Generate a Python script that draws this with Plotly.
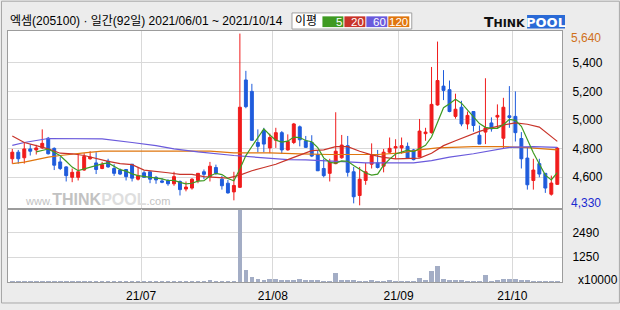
import plotly.graph_objects as go
import pandas as pd

# ---------------- data ----------------
opens = [4728, 4774, 4735, 4797, 4790, 4804, 4872, 4801, 4706, 4671,
         4598, 4598, 4649, 4728, 4699, 4660, 4712, 4660, 4649, 4653,
         4690, 4585, 4630, 4637, 4598, 4573, 4576, 4553, 4569, 4516,
         4523, 4576, 4637, 4603, 4667, 4585, 4557, 4496, 4528, 5280,
         5200, 4842, 4927, 4804, 4858, 4911, 4790, 4842, 4952, 4854,
         4842, 4756, 4660, 4626, 4694, 4735, 4820, 4637, 4471, 4576,
         4690, 4699, 4676, 4774, 4804, 4804, 4815, 4790, 4740, 4904,
         4911, 5105, 5237, 5212, 5025, 5089, 4972, 5059, 4893, 4915,
         4979, 5020, 4872, 5029, 5025, 4870, 4733, 4576, 4694, 4626,
         4480, 4549]
highs = [4797, 4790, 4842, 4831, 4826, 4934, 4881, 4808, 4740, 4676,
         4660, 4763, 4767, 4781, 4774, 4706, 4728, 4690, 4660, 4655,
         4690, 4671, 4642, 4637, 4608, 4592, 4585, 4637, 4576, 4569,
         4592, 4626, 4653, 4706, 4687, 4608, 4580, 4637, 5605, 5344,
         5253, 4934, 4945, 4904, 4945, 4922, 4899, 4979, 4961, 4888,
         4893, 4785, 4728, 4728, 5054, 4895, 4888, 4671, 4671, 4699,
         4836, 4790, 4797, 4877, 4865, 4877, 4842, 4797, 5007, 4945,
         5371, 5549, 5349, 5276, 5184, 5134, 5059, 5059, 4961, 5292,
         5018, 5109, 5155, 5237, 5200, 4915, 4808, 4728, 4728, 4626,
         4610, 4810]
lows = [4694, 4694, 4694, 4751, 4758, 4797, 4758, 4649, 4649, 4569,
        4564, 4576, 4644, 4722, 4621, 4655, 4665, 4608, 4614, 4576,
        4569, 4576, 4596, 4557, 4553, 4557, 4539, 4539, 4471, 4500,
        4512, 4557, 4585, 4569, 4614, 4512, 4484, 4437, 4523, 5082,
        4854, 4774, 4774, 4767, 4804, 4763, 4785, 4831, 4815, 4804,
        4740, 4642, 4598, 4569, 4690, 4728, 4603, 4416, 4402, 4546,
        4660, 4660, 4633, 4767, 4728, 4763, 4728, 4717, 4740, 4854,
        4904, 5100, 5139, 5054, 5009, 4956, 4934, 4918, 4831, 4831,
        4918, 4940, 4797, 4945, 4849, 4660, 4512, 4512, 4598, 4489,
        4470, 4545]
closes = [4774, 4728, 4797, 4781, 4804, 4836, 4763, 4683, 4660, 4610,
          4633, 4637, 4744, 4740, 4653, 4687, 4671, 4626, 4621, 4603,
          4592, 4610, 4598, 4585, 4580, 4564, 4553, 4603, 4512, 4530,
          4585, 4626, 4619, 4676, 4626, 4539, 4489, 4541, 5089, 5093,
          4858, 4815, 4831, 4877, 4911, 4790, 4849, 4972, 4861, 4808,
          4747, 4644, 4610, 4706, 4781, 4824, 4633, 4462, 4585, 4637,
          4751, 4667, 4774, 4801, 4813, 4820, 4733, 4722, 4922, 4915,
          5109, 5276, 5207, 5059, 5075, 4972, 5032, 4961, 4831, 4945,
          4938, 5032, 5089, 5018, 4911, 4728, 4546, 4649, 4621, 4523,
          4558, 4802]
volumes = [70] * 33 + [120, 70, 70, 70, 70,
           3620, 620, 270, 150, 110, 160, 160, 110, 110, 110,
           160, 100, 100, 100, 70, 70, 460, 100, 100, 100,
           70, 70, 100, 70, 70, 100, 70, 70, 70, 70,
           215, 100, 545, 843, 150, 100, 100, 100, 70, 70,
           70, 347, 70, 100, 150, 150, 150, 100, 100,
           70, 70, 70, 70, 70]

ma20_days = [0, 2, 4, 6, 8, 10, 12, 14, 16, 18, 20, 22, 24, 26, 28, 30, 32, 34, 36, 38,
             40, 42, 44, 46, 48, 50, 52, 54, 56, 58, 60, 62, 64, 66, 68, 70, 72, 74, 76,
             78, 80, 82, 84, 86, 88, 90, 91]
ma20 = [4888, 4842, 4820, 4797, 4767, 4763, 4751, 4728, 4710, 4694, 4687, 4649, 4637,
        4630, 4619, 4619, 4603, 4598, 4592, 4614, 4644, 4667, 4690, 4722, 4751, 4785,
        4790, 4813, 4813, 4781, 4755, 4738, 4728, 4728, 4733, 4767, 4820, 4854, 4888,
        4920, 4945, 4965, 4979, 4970, 4950, 4880, 4850]
ma60_days = [0, 2, 6, 10, 15, 20, 24, 27, 29, 31, 37, 40, 43, 46, 49, 54, 56, 59, 62,
             67, 70, 73, 77, 80, 83, 87, 91]
ma60 = [4822, 4842, 4870, 4870, 4868, 4842, 4820, 4797, 4785, 4776, 4751, 4740, 4728,
        4722, 4720, 4713, 4706, 4699, 4699, 4699, 4715, 4740, 4763, 4785, 4808, 4813, 4808]
ma120_days = [0, 2, 4, 6, 8, 10, 12, 15, 20, 26, 31, 33, 37, 43, 48, 53, 61, 65, 68,
              71, 77, 82, 86, 89, 91]
ma120 = [4694, 4704, 4722, 4740, 4751, 4762, 4770, 4781, 4781, 4785, 4781, 4781, 4770,
         4770, 4763, 4758, 4758, 4770, 4790, 4804, 4813, 4813, 4806, 4795, 4790]

month_start_idx = [22, 44, 65, 84]
month_labels = ["21/07", "21/08", "21/09", "21/10"]
price_ticks = [4600, 4800, 5000, 5200, 5400]
vol_ticks = [1250, 2490]
period_high = 5640
period_low = 4330
title_text = "엑셈(205100) · 일간(92일) 2021/06/01 ~ 2021/10/14"
ma_names = ["5", "20", "60", "120"]

# ---------------- styling ----------------
W, H = 620, 310
L, R, T, B = 7, 562, 31, 288
SPLIT = 213
FONT = "Liberation Sans, Noto Sans CJK KR, sans-serif"
RED = "#f01c1c"
BLUE = "#1f5cdc"
C5, C20, C60, C120 = "#3f9a22", "#c8342a", "#6a5adc", "#e0760e"
GRID = "#d9d9d9"
FRAME = "#9c9c9c"
BG = "#ececec"


def fx(x):
    return (x - L) / (R - L)


def fy(y):
    return (B - y) / (B - T)


days = list(range(len(closes)))
ma5 = pd.Series(closes, dtype=float).rolling(5).mean().tolist()
ma5 = [None if pd.isna(v) else v for v in ma5]

fig = go.Figure()
for d, v, c in [(ma120_days, ma120, C120), (ma60_days, ma60, C60), (ma20_days, ma20, C20)]:
    fig.add_trace(go.Scatter(x=d, y=v, mode="lines", line=dict(color=c, width=1.2),
                             hoverinfo="skip", showlegend=False, xaxis="x", yaxis="y"))
fig.add_trace(go.Scatter(x=days, y=ma5, mode="lines", line=dict(color=C5, width=1.2),
                         hoverinfo="skip", showlegend=False, xaxis="x", yaxis="y"))
fig.add_trace(go.Candlestick(
    x=days, open=opens, high=highs, low=lows, close=closes,
    increasing=dict(line=dict(color=RED, width=1), fillcolor=RED),
    decreasing=dict(line=dict(color=BLUE, width=1), fillcolor=BLUE),
    whiskerwidth=0, showlegend=False, xaxis="x", yaxis="y"))
fig.add_trace(go.Bar(x=days, y=volumes, width=0.78,
                     marker=dict(color="#a3adc5", line=dict(width=0)),
                     showlegend=False, xaxis="x2", yaxis="y2"))

grid_pos = [i - 0.5 for i in month_start_idx]
xr = [(L - 11.3) / 6.0, (R - 11.3) / 6.0]
axis_common = dict(showline=True, linecolor=FRAME, linewidth=1, mirror=True,
                   zeroline=False, showgrid=True, gridcolor=GRID, gridwidth=1)

fig.update_layout(
    width=W, height=H,
    margin=dict(l=L, r=W - R, t=T, b=H - B, pad=0),
    paper_bgcolor=BG, plot_bgcolor="white",
    font=dict(family=FONT, size=12, color="black"),
    showlegend=False, bargap=0,
    xaxis=dict(domain=[0, 1], range=xr, anchor="y", tickvals=grid_pos,
               showticklabels=False, ticks="", rangeslider=dict(visible=False),
               **axis_common),
    xaxis2=dict(domain=[0, 1], range=xr, anchor="y2", tickvals=grid_pos,
                ticktext=month_labels, ticks="", ticklabelstandoff=3,
                tickfont=dict(size=12, color="black"), **axis_common),
    yaxis=dict(domain=[fy(SPLIT), 1], range=[4378, 5623], side="right", anchor="x",
               tickvals=price_ticks, ticktext=[f"{v:,}" for v in price_ticks],
               ticks="", ticklabelstandoff=7, tickfont=dict(size=12, color="black"),
               **axis_common),
    yaxis2=dict(domain=[0, fy(SPLIT)], range=[0, 3695], side="right", anchor="x2",
                tickvals=vol_ticks, ticktext=[str(v) for v in vol_ticks],
                ticks="", ticklabelstandoff=7, tickfont=dict(size=12, color="black"),
                **axis_common),
)

shapes = []
ann = []
# outer border
shapes.append(dict(type="rect", xref="paper", yref="paper", x0=fx(0.5), x1=fx(619.5),
                   y0=fy(309.5), y1=fy(0.5), line=dict(color="#a8a8a8", width=1)))
# legend box
shapes.append(dict(type="rect", xref="paper", yref="paper", x0=fx(291.5), x1=fx(411.5),
                   y0=fy(29), y1=fy(12.5), fillcolor="white", line=dict(color="#a0a0a0", width=1)))
boxes = [(322, 343, C5), (344, 365, C20), (366, 387, C60), (388, 409, C120)]
for (a, b, c), name in zip(boxes, ma_names):
    shapes.append(dict(type="rect", xref="paper", yref="paper", x0=fx(a), x1=fx(b),
                       y0=fy(27), y1=fy(16), fillcolor=c, line=dict(width=0)))
    ann.append(dict(x=fx(b - 0.5), y=fy(21.5), xref="paper", yref="paper", text=name,
                    showarrow=False, xanchor="right", yanchor="middle", borderpad=0,
                    font=dict(size=11.5, color="white", family=FONT)))
ann.append(dict(x=fx(293), y=fy(21), xref="paper", yref="paper", text="이평",
                showarrow=False, xanchor="left", yanchor="middle",
                font=dict(size=12, color="black", family=FONT)))
# title
ann.append(dict(x=fx(7), y=fy(21), xref="paper", yref="paper", text=title_text,
                showarrow=False, xanchor="left", yanchor="middle",
                font=dict(size=12, color="black", family=FONT)))
# logo
shapes.append(dict(type="rect", xref="paper", yref="paper", x0=fx(527), x1=fx(565),
                   y0=fy(28.5), y1=fy(14.5), fillcolor="#2a6ad6", line=dict(width=0)))
ann.append(dict(x=fx(527), y=fy(22), xref="paper", yref="paper",
                text="<b>T</b><b><span style='font-size:11px'>HINK</span></b>",
                showarrow=False, xanchor="right", yanchor="middle",
                font=dict(size=14, color="#111111", family="DejaVu Sans")))
ann.append(dict(x=fx(546), y=fy(22), xref="paper", yref="paper", text="<b>POOL</b>",
                showarrow=False, xanchor="center", yanchor="middle",
                font=dict(size=13, color="white", family="DejaVu Sans")))
# watermark
ann.append(dict(x=fx(22), y=fy(204), xref="paper", yref="paper",
                text=("<span style='font-size:11px'>www.</span>"
                      "<b>THINK</b><b><span style='color:#dedede'>POOL</span></b>"
                      "<span style='font-size:11px'>.com</span>"),
                showarrow=False, xanchor="left", yanchor="middle",
                font=dict(size=16, color="#c2c2c2", family=FONT)))
# period high / low and volume unit
ann.append(dict(x=fx(569), y=fy(38), xref="paper", yref="paper", text=f"{period_high:,}",
                showarrow=False, xanchor="left", yanchor="middle",
                font=dict(size=12, color="#d0701a", family=FONT)))
ann.append(dict(x=fx(569), y=fy(207), xref="paper", yref="paper", text=f"{period_low:,}",
                showarrow=False, xanchor="left", yanchor="middle",
                font=dict(size=12, color="#1a2ad0", family=FONT)))
ann.append(dict(x=fx(576), y=fy(286), xref="paper", yref="paper", text="x10000",
                showarrow=False, xanchor="left", yanchor="middle",
                font=dict(size=12, color="black", family=FONT)))

fig.update_layout(shapes=shapes, annotations=ann)
fig.write_html("out.html")
